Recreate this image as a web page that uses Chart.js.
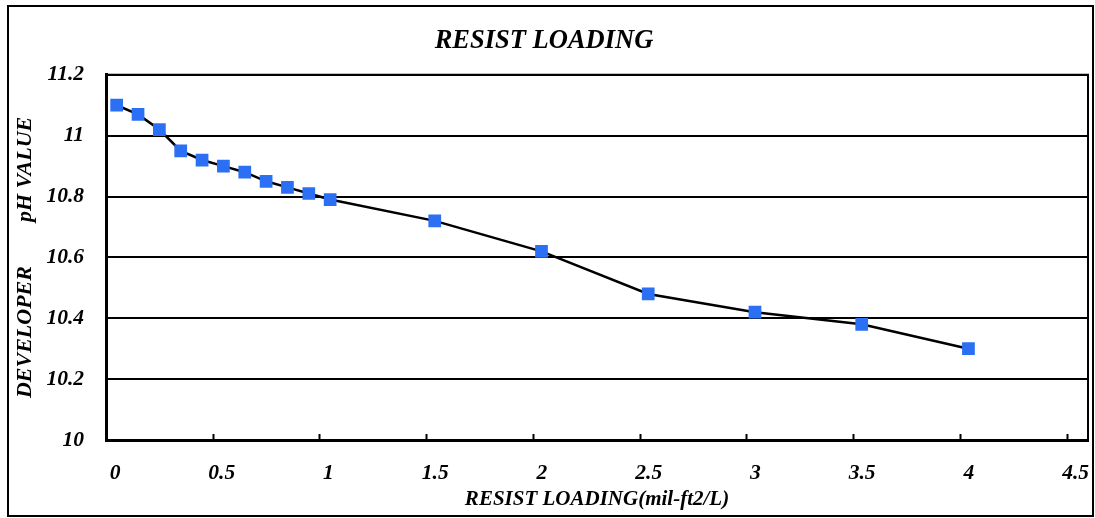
<!DOCTYPE html>
<html>
<head>
<meta charset="utf-8">
<script src="https://cdn.jsdelivr.net/npm/chart.js@4.4.1/dist/chart.umd.min.js"></script>
<style>
  html, body { margin: 0; padding: 0; background: #fff; }
  #wrap { position: relative; width: 1095px; height: 518px; }
</style>
</head>
<body>
<div id="wrap"><canvas id="myChart"></canvas></div>
<script>
'use strict';

// ********** DATA **********

let loading = [0.05, 0.15, 0.25, 0.35, 0.45, 0.55, 0.65, 0.75, 0.85, 0.95, 1.05, 1.54, 2.04, 2.54, 3.04, 3.54, 4.04];
let phValue = [11.10, 11.07, 11.02, 10.95, 10.92, 10.90, 10.88, 10.85, 10.83, 10.81, 10.79, 10.72, 10.62, 10.48, 10.42, 10.38, 10.30];

let chartTitle = 'RESIST LOADING';
let xTitle = 'RESIST LOADING(mil-ft2/L)';
let yTitle = 'DEVELOPER        pH VALUE';

// ********** HELPERS **********

const serif = 'Liberation Serif, Times New Roman, serif';

function tickText(v) {
  return String(+Number(v).toFixed(1));
}

// outer frame, plot frame and inward x ticks
const framePlugin = {
  id: 'frame',
  beforeDraw(chart) {
    let ctx = chart.ctx;
    ctx.save();
    ctx.fillStyle = '#fff';
    ctx.fillRect(0, 0, chart.width, chart.height);
    ctx.strokeStyle = '#000';
    ctx.lineWidth = 2;
    ctx.strokeRect(8, 6, 1085, 510);
    ctx.restore();
  },
  afterDatasetsDraw(chart) {
    let ctx = chart.ctx;
    let a = chart.chartArea;
    let xs = chart.scales.x;
    ctx.save();
    ctx.strokeStyle = '#000';
    ctx.lineWidth = 2;
    ctx.beginPath();
    ctx.moveTo(a.left, a.top);
    ctx.lineTo(a.right, a.top);
    ctx.lineTo(a.right, a.bottom);
    ctx.stroke();
    ctx.beginPath();
    xs.ticks.forEach(t => {
      if (t.value <= 0) return;
      let px = Math.round(xs.getPixelForValue(t.value)) + 0.5;
      ctx.moveTo(px, a.bottom);
      ctx.lineTo(px, a.bottom - 6);
    });
    ctx.stroke();
    ctx.restore();
  }
};

// ********** CHART **********

let points = loading.map((x, i) => ({x: x, y: phValue[i]}));

new Chart(document.querySelector('#myChart'), {
  type: 'scatter',
  data: {
    datasets: [{
      data: points,
      showLine: true,
      borderColor: '#000',
      borderWidth: 2.5,
      tension: 0,
      pointStyle: 'rect',
      pointRadius: 9,
      pointHoverRadius: 9,
      pointBackgroundColor: '#2B6FF4',
      pointBorderColor: '#2B6FF4',
      pointBorderWidth: 0
    }]
  },
  options: {
    responsive: true,
    maintainAspectRatio: false,
    animation: false,
    layout: {autoPadding: false, padding: {left: 0, right: 7, top: 0, bottom: 0}},
    plugins: {
      legend: {display: false},
      tooltip: {enabled: false},
      title: {
        display: true,
        text: chartTitle,
        color: '#000',
        font: {family: serif, size: 26.5, weight: 'bold', style: 'italic'},
        padding: {top: 25, bottom: 18}
      }
    },
    scales: {
      x: {
        type: 'linear',
        min: 0,
        max: 4.6,
        grid: {display: true, drawOnChartArea: false, drawTicks: false},
        border: {display: true, color: '#000', width: 3},
        afterFit(scale) {
          scale.height = 78;
          scale.paddingLeft = 0;
          scale.paddingRight = 0;
        },
        ticks: {
          stepSize: 0.5,
          includeBounds: false,
          maxRotation: 0,
          autoSkip: false,
          labelOffset: 9,
          padding: 21,
          color: '#000',
          font: {family: serif, size: 21.5, weight: 'bold', style: 'italic'},
          callback: tickText
        },
        title: {
          display: true,
          text: xTitle,
          color: '#000',
          font: {family: serif, size: 21, weight: 'bold', style: 'italic'},
          padding: {top: 6, bottom: 6}
        }
      },
      y: {
        min: 10,
        max: 11.2,
        grid: {color: '#000', lineWidth: 2, drawTicks: false},
        border: {display: true, color: '#000', width: 3},
        afterFit(scale) { scale.width = 106; },
        ticks: {
          stepSize: 0.2,
          padding: 22,
          color: '#000',
          font: {family: serif, size: 21.5, weight: 'bold', style: 'italic'},
          callback: tickText
        },
        title: {
          display: true,
          text: yTitle,
          color: '#000',
          font: {family: serif, size: 22, weight: 'bold', style: 'italic'},
          padding: {top: 12, bottom: 12}
        }
      }
    }
  },
  plugins: [framePlugin]
});
</script>
</body>
</html>
